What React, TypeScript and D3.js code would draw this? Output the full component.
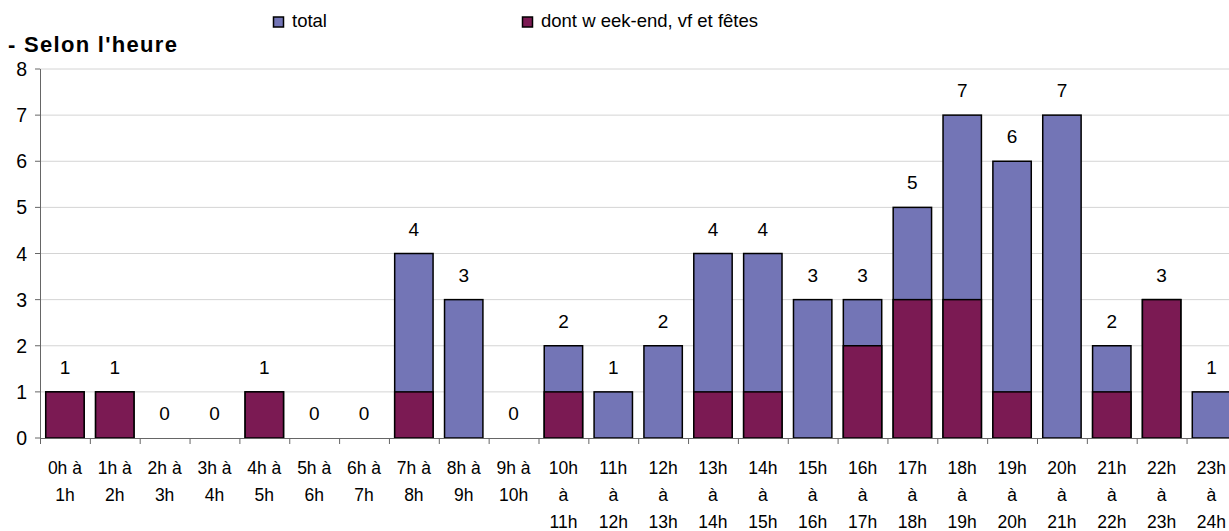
import React from "react";
import * as d3 from "d3";

const categories = [
  ["0h à", "1h"], ["1h à", "2h"], ["2h à", "3h"], ["3h à", "4h"], ["4h à", "5h"],
  ["5h à", "6h"], ["6h à", "7h"], ["7h à", "8h"], ["8h à", "9h"], ["9h à", "10h"],
  ["10h", "à", "11h"], ["11h", "à", "12h"], ["12h", "à", "13h"], ["13h", "à", "14h"],
  ["14h", "à", "15h"], ["15h", "à", "16h"], ["16h", "à", "17h"], ["17h", "à", "18h"],
  ["18h", "à", "19h"], ["19h", "à", "20h"], ["20h", "à", "21h"], ["21h", "à", "22h"],
  ["22h", "à", "23h"], ["23h", "à", "24h"],
];
const totalValues = [1, 1, 0, 0, 1, 0, 0, 4, 3, 0, 2, 1, 2, 4, 4, 3, 3, 5, 7, 6, 7, 2, 3, 1];
const weekendValues = [1, 1, 0, 0, 1, 0, 0, 1, 0, 0, 1, 0, 0, 1, 1, 0, 2, 3, 3, 1, 0, 1, 3, 0];
const yTicks = [0, 1, 2, 3, 4, 5, 6, 7, 8];

const W = 1229;
const H = 531;
const left = 40;
const step = 49.85;
const right = left + step * categories.length;
const top = 69;
const bottom = 438;
const TOTAL_COLOR = "#7375B6";
const WEEKEND_COLOR = "#7B1A53";
const FONT = "Arial, 'Liberation Sans', sans-serif";

export default function App() {
  const idx = categories.map((_, i) => String(i));
  const x = d3.scaleBand<string>().domain(idx).range([left, right]).paddingInner(0.23).paddingOuter(0.115);
  const xOuter = d3.scaleBand<string>().domain(idx).range([left, right]);
  const y = d3.scaleLinear().domain([0, 8]).range([bottom, top]);
  const bw = x.bandwidth();

  return (
    <svg width={W} height={H} style={{ position: "absolute", left: 0, top: 0, display: "block" }}
      fontFamily={FONT}>
      <rect width={W} height={H} fill="#fff" />
      {/* title */}
      <text x={8} y={52} fontSize={22} fontWeight="bold" letterSpacing={1.3} fill="#000">- Selon l'heure</text>
      {/* legend */}
      <rect x={273.5} y={17} width={10} height={10} fill={TOTAL_COLOR} stroke="#000" strokeWidth={1.5} />
      <text x={292} y={27} fontSize={18.5} fill="#000">total</text>
      <rect x={522.5} y={17} width={10} height={10} fill={WEEKEND_COLOR} stroke="#000" strokeWidth={1.5} />
      <text x={541} y={27} fontSize={18.5} fill="#000">dont w eek-end, vf et fêtes</text>

      {/* gridlines */}
      {yTicks.filter(t => t > 0).map(t => (
        <line key={t} x1={left} x2={W} y1={y(t)} y2={y(t)} stroke="#d4d4d4" strokeWidth={1} />
      ))}
      {/* y axis */}
      <line x1={left + 0.5} x2={left + 0.5} y1={top} y2={bottom} stroke="#666" strokeWidth={1} />
      {yTicks.map(t => (
        <g key={t}>
          <line x1={left - 5} x2={left} y1={y(t)} y2={y(t)} stroke="#666" />
          <text x={27} y={y(t) + 7} textAnchor="end" fontSize={19.5} fill="#000">{t}</text>
        </g>
      ))}

      {/* bars: total first, weekend share drawn over it */}
      {totalValues.map((v, i) => v > 0 && (
        <rect key={"t" + i} x={x(String(i))!} y={y(v)} width={bw} height={y(0) - y(v)}
          fill={TOTAL_COLOR} stroke="#000" strokeWidth={1.5} />
      ))}
      {weekendValues.map((v, i) => v > 0 && (
        <rect key={"w" + i} x={x(String(i))!} y={y(v)} width={bw} height={y(0) - y(v)}
          fill={WEEKEND_COLOR} stroke="#000" strokeWidth={1.5} />
      ))}

      {/* value labels */}
      {totalValues.map((v, i) => (
        <text key={"l" + i} x={x(String(i))! + bw / 2} y={y(v) - 18} textAnchor="middle"
          fontSize={19} fill="#000">{v}</text>
      ))}

      {/* x axis */}
      <line x1={left} x2={W} y1={bottom + 0.5} y2={bottom + 0.5} stroke="#666" strokeWidth={1} />
      {idx.map(d => (
        <line key={"tk" + d} x1={xOuter(d)! + 0.5} x2={xOuter(d)! + 0.5} y1={bottom} y2={bottom + 6} stroke="#666" />
      ))}
      {categories.map((lines, i) => (
        <text key={"c" + i} textAnchor="middle" fontSize={17.5} fill="#000">
          {lines.map((ln, j) => (
            <tspan key={j} x={x(String(i))! + bw / 2} y={474 + j * 27}>{ln}</tspan>
          ))}
        </text>
      ))}
    </svg>
  );
}
